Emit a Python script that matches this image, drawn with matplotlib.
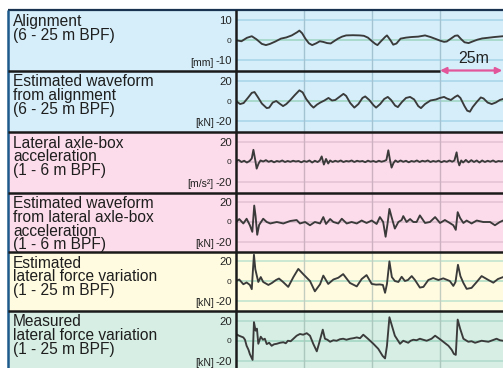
import matplotlib
matplotlib.use('Agg')
import matplotlib.pyplot as plt

plt.rcParams['font.family'] = ['Liberation Sans', 'DejaVu Sans']

# ---------------- data (distance in m, value) ----------------
alignment_pts = [(0.0, 0.0), (2.0, -0.5), (4.0, 1.2), (5.8, 2.0), (7.5, 0.5), (9.5, -1.8), (11.0, -2.4),
                 (12.5, -1.8), (14.5, -0.6), (16.5, 0.8), (18.5, 1.4), (20.5, 2.4), (22.5, 4.0), (23.3, 4.8),
                 (24.3, 3.5), (25.5, 0.8), (26.8, -1.5), (28.0, -2.4), (29.5, -1.5), (30.8, -0.5), (32.0, -0.8),
                 (33.5, -1.4), (34.8, -1.6), (36.0, -0.5), (37.5, 0.8), (39.0, 1.8), (40.5, 2.4), (43.0, 2.5),
                 (45.5, 2.4), (47.0, 2.2), (48.5, 1.3), (50.0, -0.5), (51.2, -1.8), (52.0, -2.4), (53.3, -0.5),
                 (54.8, 1.6), (55.5, 2.4), (56.8, 0.0), (57.8, -2.2), (59.0, -1.6), (60.5, 0.8), (62.5, 1.3),
                 (64.5, 1.6), (67.0, 1.8), (69.5, 2.4), (71.5, 1.6), (73.5, 0.6), (75.0, -0.2), (76.5, -0.8),
                 (77.5, -0.6), (79.0, 0.8), (80.5, 2.2), (81.5, 2.4), (82.8, 0.5), (84.0, -1.0), (85.5, -1.4),
                 (87.0, -0.6), (88.8, 0.3), (90.5, 0.9), (92.5, 1.2), (95.0, 1.6), (98.2, 2.0)]

est_alignment_pts = [(0.0, 0.0), (1.5, -3.0), (2.8, -2.0), (4.5, 3.5), (5.8, 8.0), (6.8, 8.8), (8.0, 4.0),
                     (9.5, -2.5), (11.3, -7.0), (12.2, -6.5), (13.5, -1.5), (14.8, 0.0), (16.0, -2.5),
                     (17.3, -5.0), (18.5, -3.0), (20.0, 1.0), (21.5, 5.5), (23.3, 10.5), (24.5, 8.5),
                     (25.8, 2.0), (27.5, -4.0), (28.5, -6.5), (29.8, -3.5), (31.0, -1.5), (32.5, 0.5),
                     (34.0, 3.0), (35.3, 0.5), (36.5, 1.0), (38.0, 4.0), (39.5, 7.0), (40.5, 5.0),
                     (42.0, -2.0), (43.5, -6.5), (45.0, -3.0), (46.5, 3.0), (47.5, 4.5), (49.0, 1.0),
                     (50.5, -4.0), (51.5, -6.5), (53.0, -3.0), (54.5, 2.0), (55.8, 4.0), (57.0, 1.0),
                     (58.5, -4.5), (59.5, -6.0), (61.0, -1.0), (62.5, 3.0), (64.0, 4.0), (65.5, 1.5),
                     (67.0, -5.0), (68.0, -7.0), (69.5, -3.0), (71.5, 0.5), (73.5, 1.5), (75.0, 3.0),
                     (76.5, 4.0), (77.5, 2.5), (79.0, 1.0), (80.5, 4.0), (81.5, 5.5), (82.5, 3.0),
                     (84.0, -5.0), (85.0, -9.5), (86.0, -10.5), (87.0, -6.0), (88.5, -1.0), (90.0, 3.5),
                     (91.0, 2.5), (92.5, -1.5), (94.0, -3.0), (95.5, -1.5), (97.0, 1.0), (98.2, 2.0)]

axlebox_acc_pts = [(0, 1.0), (1, 2.0), (2, 0.0), (3, 1.2), (4, -0.5), (5, 1.0), (5.8, 3.5), (6.4, 12.0),
                   (7.1, 1.5), (7.6, -6.5), (8.3, -1.5), (9, 1.5), (10, 0.5), (11, 1.8), (12, 0.2), (13, 1.2),
                   (14, -0.3), (15, 1.0), (16, 0.3), (17, 1.5), (18, 0.0), (19, 1.0), (20, 0.2), (21, 1.2),
                   (22, 0.5), (23, 1.0), (24, -0.3), (25, 1.0), (26, 0.2), (27, 1.5), (28, -0.5), (29, 1.2),
                   (30, 0.0), (30.8, 1.5), (31.5, 5.5), (32.3, -2.5), (33.1, 3.0), (33.9, -1.5), (34.6, 1.5),
                   (35.5, 0.0), (36.5, 1.2), (37.5, 0.3), (38.5, 1.5), (39.5, 0.0), (40.5, 1.0), (41.5, 0.5),
                   (42.5, 1.5), (43.5, 0.0), (44.5, 1.2), (45.5, 0.5), (46.5, 1.0), (47.5, -0.2), (48.5, 1.3),
                   (49.5, 0.3), (50.5, 1.0), (51.5, 0.0), (52.5, 1.2), (53.5, 0.3), (54.5, 1.0), (55.3, 2.0),
                   (56.0, 11.5), (56.6, 2.0), (57.2, -5.5), (57.9, -1.0), (58.6, 1.5), (59.5, 0.0),
                   (60.5, 1.5), (61.5, 0.2), (62.5, 1.2), (63.5, -0.3), (64.5, 1.0), (65.5, 0.3), (66.5, 1.5),
                   (67.5, 0.0), (68.5, 1.2), (69.5, 0.5), (70.5, 1.5), (71.5, 0.0), (72.5, 1.0), (73.5, 0.3),
                   (74.5, 1.3), (75.5, -0.2), (76.5, 1.0), (77.5, 0.2), (78.5, 1.5), (79.5, 0.3), (80.3, 1.5),
                   (81.1, 9.5), (81.6, 1.0), (82.1, -3.3), (82.8, 1.5), (83.5, -0.5), (84.5, 2.0),
                   (85.5, -0.3), (86.5, 1.8), (87.5, 0.0), (88.5, 1.5), (89.5, -0.5), (90.5, 1.5), (91.5, 0.0),
                   (92.5, 1.2), (93.5, 0.3), (94.5, 1.5), (95.5, 0.0), (96.5, 1.0), (97.5, 0.5), (98.2, 1.0)]

est_axlebox_pts = [(0.0, 0.0), (1.2, 3.0), (2.7, -1.5), (3.9, 3.3), (5.1, -3.3), (6.0, -10.0), (6.7, 16.7),
                   (7.2, 6.0), (7.8, -13.0), (8.5, -3.0), (10.0, 3.3), (11.3, 0.0), (12.6, -1.5), (15.0, 0.0),
                   (17.4, -1.5), (19.9, 1.0), (22.3, 2.0), (23.5, -1.5), (25.4, 0.0), (27.2, -3.3),
                   (29.0, 0.0), (30.9, -1.5), (32.1, 5.0), (33.1, -2.0), (34.6, 3.0), (35.8, 0.0),
                   (37.6, -1.5), (38.9, 3.3), (40.7, -1.5), (42.5, 0.0), (44.4, -1.5), (46.2, 1.5),
                   (48.0, -1.0), (49.9, 1.5), (51.7, -2.0), (52.9, 5.0), (54.1, 0.0), (55.0, -15.0),
                   (55.7, -2.0), (56.4, 13.3), (57.2, 5.0), (58.4, -6.7), (59.7, 0.0), (60.9, 2.0),
                   (61.5, 6.0), (62.7, 0.0), (64.0, 3.0), (65.2, 0.0), (66.4, 0.0), (67.6, 6.7),
                   (69.5, -1.0), (71.3, 0.0), (73.2, 5.0), (75.0, -1.0), (76.8, 2.0), (78.6, -1.0),
                   (79.9, -3.3), (80.8, -8.0), (81.5, 10.0), (82.4, 4.0), (83.6, -1.0), (84.8, 1.5),
                   (86.6, -1.5), (88.5, 1.5), (90.9, 0.0), (93.4, 0.0), (95.2, -3.3), (97.0, 0.0), (98.2, 1.5)]

est_force_pts = [(0.0, 0.0), (1.2, 1.5), (2.7, -3.3), (3.9, -1.5), (5.1, -4.0), (5.8, -8.3), (6.2, 10.0),
                 (6.6, 26.7), (7.1, 12.0), (7.6, 6.0), (8.2, -1.0), (9.1, 4.0), (10.0, -1.0), (11.9, -4.0),
                 (13.2, -2.0), (14.7, 1.0), (15.8, 2.5), (17.3, -1.0), (19.2, -6.0), (21.1, 4.0),
                 (22.9, 12.3), (24.7, 7.0), (27.2, 0.0), (29.0, -10.5), (30.9, -3.3), (32.1, 5.5),
                 (33.9, -3.0), (35.8, 1.5), (37.6, 3.3), (39.4, 7.0), (41.9, -2.0), (44.4, -5.5),
                 (46.2, 2.0), (48.0, 6.0), (49.9, -3.0), (51.5, -3.7), (52.9, -3.5), (54.0, -4.0),
                 (54.8, -12.0), (55.5, -3.0), (56.4, 20.0), (57.3, 4.0), (58.4, 0.0), (59.7, -1.0),
                 (60.9, 4.3), (62.1, 0.0), (63.2, 1.0), (64.6, 5.0), (65.8, 1.0), (67.6, -6.7),
                 (68.9, -6.0), (70.7, 1.0), (72.5, 3.0), (74.4, 1.0), (76.2, 2.7), (78.6, 0.0),
                 (79.9, -5.0), (80.7, -1.0), (81.6, 16.5), (82.5, 5.0), (83.6, -2.0), (84.8, -8.0),
                 (86.6, -7.0), (88.5, -1.0), (90.3, 5.0), (92.8, 1.0), (94.6, -1.7), (96.3, 2.0), (98.2, 4.0)]

measured_force_pts = [(0.0, 6.7), (1.1, 5.0), (2.7, 3.3), (3.3, 1.0), (3.9, -5.0), (4.6, -9.0), (5.1, -13.3),
                      (6.1, -19.0), (6.6, 18.5), (7.2, 10.0), (7.7, 12.0), (8.2, -3.0), (9.1, 4.0),
                      (9.9, 1.0), (10.6, 2.0), (11.3, -3.3), (12.2, -2.0), (13.1, -5.0), (14.0, -3.5),
                      (15.0, -3.0), (16.2, -2.0), (17.4, -1.5), (18.3, -2.5), (19.1, 0.0), (20.1, -0.5),
                      (21.1, 2.0), (22.3, 5.0), (23.5, 6.7), (24.7, 6.0), (26.0, 7.5), (27.2, 5.0),
                      (28.4, -3.0), (29.7, -10.5), (30.5, -3.0), (31.9, 11.0), (32.7, 2.0), (33.6, 1.0),
                      (34.6, -1.0), (35.8, 0.5), (37.0, 0.0), (38.2, 1.5), (39.4, 2.0), (40.6, 1.0),
                      (41.9, 2.0), (43.1, 2.5), (44.4, 3.3), (45.6, 2.5), (46.8, 6.0), (48.5, 2.0),
                      (50.5, -3.0), (52.3, -8.0), (53.9, -15.0), (54.8, -17.5), (55.5, -5.0),
                      (56.4, 23.3), (57.2, 16.0), (58.4, 5.0), (60.3, -3.0), (61.5, 0.0), (62.4, -1.0),
                      (63.3, -2.0), (64.2, 0.0), (65.2, 1.0), (66.4, 0.5), (67.6, 2.0), (68.8, 1.0),
                      (70.1, 0.0), (71.9, 2.0), (73.2, 5.0), (75.0, 1.5), (76.2, -1.0), (78.1, -5.0),
                      (79.3, -9.0), (80.1, -13.0), (80.8, -14.0), (81.5, 21.0), (82.4, 12.0), (83.6, 2.0),
                      (85.4, -1.0), (86.6, -0.5), (87.9, -2.0), (89.1, -1.0), (90.3, 0.0), (91.5, -0.5),
                      (92.8, -1.0), (94.3, 0.5), (95.8, 2.0), (97.0, 0.5), (98.2, 0.0)]

series = [alignment_pts, est_alignment_pts, axlebox_acc_pts, est_axlebox_pts, est_force_pts, measured_force_pts]

panel_titles = [["Alignment", "(6 - 25 m BPF)"],
                ["Estimated waveform", "from alignment", "(6 - 25 m BPF)"],
                ["Lateral axle-box", "acceleration", "(1 - 6 m BPF)"],
                ["Estimated waveform", "from lateral axle-box", "acceleration", "(1 - 6 m BPF)"],
                ["Estimated", "lateral force variation", "(1 - 25 m BPF)"],
                ["Measured", "lateral force variation", "(1 - 25 m BPF)"]]
panel_units = ["[mm]", "[kN]", "[m/s²]", "[kN]", "[kN]", "[kN]"]
panel_tick = [10, 20, 20, 20, 20, 20]
panel_lim = [15, 30, 30, 30, 30, 30]

grid_distances = [25, 50, 75]
x_max = 98.16
scale_bar_start = 75
scale_bar_end = 97.9
scale_bar_label = "25m"

# ---------------- styling / layout ----------------
W, H = 503, 368
fig = plt.figure(figsize=(W / 100, H / 100), dpi=100)

edges = [10, 70.5, 131.5, 192.5, 251.5, 310.5, 371]
x_left, x_div, x_right = 8, 236, 503

bg_colors = ['#d5eef9', '#d5eef9', '#fcdcea', '#fcdcea', '#fffbe0', '#d6eee3']
hgrid_colors = ['#a8d4ea', '#a8d4ea', '#e2c3d3', '#e2c3d3', '#bfe3cf', '#aedacb']
zero_colors = ['#9dd3c2', '#9dd3c2', '#d8bccb', '#d8bccb', '#a9dbc2', '#9fd4c0']
vgrid_colors = ['#a3c3d3', '#a3c3d3', '#ccb2c1', '#ccb2c1', '#c2cdc0', '#abc7be']

bg = fig.add_axes([0, 0, 1, 1])
bg.set_xlim(0, W)
bg.set_ylim(H, 0)
bg.axis('off')
for i in range(6):
    bg.add_patch(plt.Rectangle((x_left, edges[i]), x_right - x_left, edges[i + 1] - edges[i],
                               facecolor=bg_colors[i], edgecolor='none'))

axes = []
for i in range(6):
    top, bot = edges[i], edges[i + 1]
    ax = fig.add_axes([x_div / W, (H - bot) / H, (x_right - x_div) / W, (bot - top) / H])
    ax.set_facecolor('none')
    ax.set_xlim(0, x_max)
    ax.set_ylim(-panel_lim[i], panel_lim[i])
    for s in ax.spines.values():
        s.set_visible(False)
    t = panel_tick[i]
    ax.axhline(t, color=hgrid_colors[i], lw=1.1, zorder=1)
    ax.axhline(-t, color=hgrid_colors[i], lw=1.1, zorder=1)
    ax.axhline(0, color=zero_colors[i], lw=1.1, zorder=1)
    for g in grid_distances:
        ax.axvline(g, color=vgrid_colors[i], lw=1.0, zorder=1)
    d, v = zip(*series[i])
    ax.plot(d, v, color='#3a3a3a', lw=1.35, zorder=3, solid_joinstyle='round')
    ax.set_xticks([])
    ax.set_yticks([-t, 0, t])
    ax.set_yticklabels([f"-{t}", "0", f"{t}"])
    ax.tick_params(axis='y', length=0, pad=3, labelsize=8.2, labelcolor='#222222')
    ax.get_yticklabels()[1].set_fontsize(6)
    ax.annotate(panel_units[i], xy=(-0.083, -t), xycoords=('axes fraction', 'data'),
                xytext=(0, -1.5), textcoords='offset points',
                ha='right', va='center', fontsize=7.6, color='#222222')
    axes.append(ax)

# titles (one multi-line text per panel)
for i in range(6):
    bg.text(13, edges[i] + 4.0, "\n".join(panel_titles[i]), ha='left', va='top',
            fontsize=11.2, color='#1e1e1e', linespacing=0.88)

# scale bar
ax1 = axes[0]
ax1.annotate('', xy=(scale_bar_end, -panel_lim[0]), xytext=(scale_bar_start, -panel_lim[0]),
             xycoords='data', textcoords='data', annotation_clip=False,
             arrowprops=dict(arrowstyle='<|-|>', color='#e2559b', lw=1.6, mutation_scale=9,
                             shrinkA=0, shrinkB=0), zorder=12)
ax1.annotate(scale_bar_label, xy=((scale_bar_start + scale_bar_end) / 2 + 0.8, -panel_lim[0]),
             xycoords='data', xytext=(0, 3.5), textcoords='offset points', ha='center', va='bottom',
             fontsize=11.5, color='#222222', annotation_clip=False)

# frame lines overlay
ov = fig.add_axes([0, 0, 1, 1], zorder=10)
ov.set_xlim(0, W)
ov.set_ylim(H, 0)
ov.axis('off')
ov.plot([x_left, x_right], [edges[0], edges[0]], color='#18324f', lw=1.6, solid_capstyle='butt')
ov.plot([x_left, x_left], [edges[0], H], color='#1f5a8c', lw=1.8, solid_capstyle='butt')
ov.plot([x_div, x_div], [edges[0], H], color='#1a1a1a', lw=1.8, solid_capstyle='butt')
bar_px = x_div + (x_right - x_div) * scale_bar_start / x_max
for i in range(1, 6):
    xr = bar_px if i == 1 else x_right
    ov.plot([x_left, xr], [edges[i], edges[i]], color='#1a1a1a', lw=1.8, solid_capstyle='butt')

fig.savefig('out.png', dpi=100)
